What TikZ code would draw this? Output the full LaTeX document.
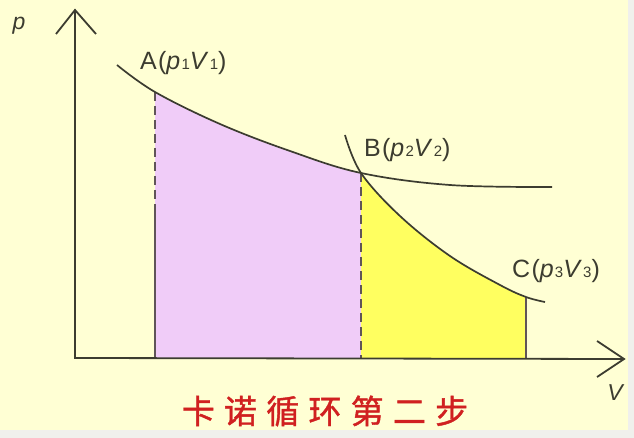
\documentclass[tikz,border=0pt]{standalone}
\usepackage{fontspec}
\setmainfont{Liberation Sans}
\newfontfamily\labfont[LetterSpace=5]{Liberation Sans}
\newfontfamily\cjk[LetterSpace=28, FakeBold=1.2]{Noto Sans CJK SC}
\definecolor{bgc}{HTML}{FFFFD4}
\definecolor{strip}{HTML}{F0F0EC}
\definecolor{linec}{HTML}{3C3C30}
\definecolor{vlinec}{HTML}{605458}
\definecolor{pinkc}{HTML}{F0CCF8}
\definecolor{yellc}{HTML}{FFFF60}
\definecolor{titlec}{HTML}{D02020}
\tikzset{
  axisline/.style={linec, line width=1.8pt},
  curveline/.style={linec, line width=1.7pt},
  vline/.style={vlinec, line width=1.8pt},
  dashline/.style={vlinec, line width=1.8pt, dash pattern=on 9pt off 5pt},
  ptlabel/.style={font=\labfont\fontsize{25}{27}\selectfont, text=linec, inner sep=0pt},
  axislabel/.style={font=\fontsize{23}{25}\selectfont\itshape, text=linec, inner sep=0pt},
}
\newcommand{\lbl}[3]{#1(\textit{p}{\fontsize{15}{16}\selectfont #2}\textit{V}{\fontsize{15}{16}\selectfont #3})}
\begin{document}
\begin{tikzpicture}[x=1pt,y=-1pt]
\useasboundingbox (0,0) rectangle (634,438);
\fill[strip] (0,0) rectangle (634,438);
\fill[bgc] (0,0) rectangle (628,430);
% fills
\begin{scope}
\clip (155,0) rectangle (361,358);
\fill[pinkc] plot[smooth,tension=0.6] coordinates {(117,65) (155,92) (220,124) (290,151) (361,173) (450,185) (552,187)} -- (552,358) -- (117,358) -- cycle;
\end{scope}
\begin{scope}
\clip (361,0) rectangle (526,358);
\fill[yellc] plot[smooth,tension=0.6] coordinates {(345,135) (361,173) (400,216) (450,256) (500,285) (526,297) (545,302)} -- (545,358) -- (345,358) -- cycle;
\end{scope}
% coordinates
\coordinate (O) at (75,358);
\coordinate (ytip) at (75,10);
\coordinate (xtip) at (624,359);
\coordinate (A) at (155,92);
\coordinate (B) at (361,173);
\coordinate (C) at (526,297);
\coordinate (Ad) at (155,205);
\coordinate (Ab) at (155,358);
\coordinate (Bb) at (361,358);
\coordinate (Cb) at (526,358);
% vertical lines
\draw[dashline] (A) -- (Ad);
\draw[vline] (Ad) -- (Ab);
\draw[dashline] (B) -- (Bb);
\draw[vline] (C) -- (Cb);
% curves
\draw[curveline] plot[smooth,tension=0.6] coordinates {(117,65) (155,92) (220,124) (290,151) (361,173) (450,185) (552,187)};
\draw[curveline] plot[smooth,tension=0.6] coordinates {(345,135) (361,173) (400,216) (450,256) (500,285) (526,297) (545,302)};
% axes
\draw[axisline] (ytip) -- (O) -- (xtip);
\draw[axisline] (56,34) -- (ytip) -- (96,34);
\draw[axisline] (597,341) -- (xtip) -- (597,377);
% labels
\node[axislabel] (plab) at (19,26) {p};
\node[axislabel] (vlab) at (615,393) {V};
\node[ptlabel, anchor=west] (Alab) at (140,63) {\lbl{A}{1}{1}};
\node[ptlabel, anchor=west] (Blab) at (364,150) {\lbl{B}{2}{2}};
\node[ptlabel, anchor=west] (Clab) at (512,271) {\lbl{C}{3}{3}};
\node[font=\cjk\fontsize{33}{35}\selectfont, text=titlec, inner sep=0pt] (title) at (325,411) {卡诺循环第二步};
\end{tikzpicture}
\end{document}
